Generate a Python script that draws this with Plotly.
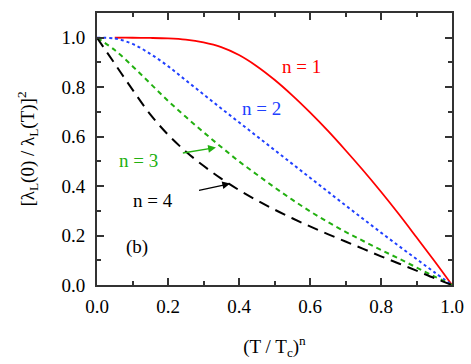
import plotly.graph_objects as go

# values
x_n1 = [0.05, 0.1, 0.15, 0.2, 0.25, 0.3, 0.35, 0.4, 0.45, 0.5, 0.55, 0.6, 0.65, 0.7, 0.75, 0.8, 0.85, 0.9, 0.95, 1.0]
y_n1 = [1.0, 1.0, 0.999, 0.997, 0.992, 0.981, 0.962, 0.93, 0.885, 0.83, 0.767, 0.698, 0.624, 0.545, 0.463, 0.377, 0.287, 0.193, 0.098, 0.0]

x_n2 = [0.0, 0.05, 0.1, 0.15, 0.2, 0.25, 0.3, 0.35, 0.4, 0.45, 0.5, 0.55, 0.6, 0.65, 0.7, 0.75, 0.8, 0.85, 0.9, 0.95, 1.0]
y_n2 = [1.0, 0.997, 0.975, 0.935, 0.885, 0.828, 0.771, 0.714, 0.658, 0.602, 0.546, 0.49, 0.434, 0.378, 0.322, 0.267, 0.212, 0.158, 0.105, 0.052, 0.0]

x_n3 = [0.0, 0.05, 0.1, 0.15, 0.2, 0.25, 0.3, 0.35, 0.4, 0.45, 0.5, 0.55, 0.6, 0.65, 0.7, 0.75, 0.8, 0.85, 0.9, 0.95, 1.0]
y_n3 = [1.0, 0.95, 0.885, 0.815, 0.745, 0.68, 0.618, 0.558, 0.5, 0.447, 0.395, 0.345, 0.298, 0.255, 0.215, 0.178, 0.142, 0.107, 0.071, 0.035, 0.0]

x_n4 = [0.0, 0.05, 0.1, 0.15, 0.2, 0.25, 0.3, 0.35, 0.4, 0.45, 0.5, 0.55, 0.6, 0.65, 0.7, 0.75, 0.8, 0.85, 0.9, 0.95, 1.0]
y_n4 = [1.0, 0.895, 0.79, 0.69, 0.608, 0.54, 0.482, 0.43, 0.384, 0.343, 0.305, 0.27, 0.237, 0.206, 0.176, 0.146, 0.116, 0.087, 0.058, 0.028, 0.0]

FONT = "Liberation Serif, DejaVu Serif, serif"

fig = go.Figure()
fig.add_trace(go.Scatter(x=x_n1, y=y_n1, mode="lines", line=dict(color="#ff0000", width=1.8, shape="spline")))
fig.add_trace(go.Scatter(x=x_n2, y=y_n2, mode="lines", line=dict(color="#2040ff", width=2, dash="dot", shape="spline")))
fig.add_trace(go.Scatter(x=x_n3, y=y_n3, mode="lines", line=dict(color="#22b010", width=2, dash="5px,4px", shape="spline")))
fig.add_trace(go.Scatter(x=x_n4, y=y_n4, mode="lines", line=dict(color="#000000", width=2, dash="11px,7px", shape="spline")))

fig.add_annotation(x=0.577, y=0.883, text="n = 1", showarrow=False, font=dict(color="#ff0000", size=19, family=FONT))
fig.add_annotation(x=0.464, y=0.714, text="n = 2", showarrow=False, font=dict(color="#2040ff", size=19, family=FONT))
fig.add_annotation(x=0.335, y=0.556, ax=0.116, ay=0.504, axref="x", ayref="y", text="n = 3", showarrow=True,
                   arrowhead=2, arrowsize=1.2, arrowwidth=1.3, arrowcolor="#22b010", standoff=0, startstandoff=24,
                   font=dict(color="#22b010", size=19, family=FONT))
fig.add_annotation(x=0.375, y=0.41, ax=0.158, ay=0.343, axref="x", ayref="y", text="n = 4", showarrow=True,
                   arrowhead=2, arrowsize=1.2, arrowwidth=1.3, arrowcolor="#000000", standoff=0, startstandoff=25,
                   font=dict(color="#000000", size=19, family=FONT))
fig.add_annotation(x=0.113, y=0.153, text="(b)", showarrow=False, font=dict(color="#000000", size=19, family=FONT))

axis_common = dict(
    showgrid=False, zeroline=False, showline=True, linecolor="#333333", linewidth=2,
    mirror="allticks", ticks="inside", ticklen=7, tickwidth=1.5, tickcolor="#333333",
    tickformat=".1f", dtick=0.2, tick0=0, automargin=False,
    minor=dict(ticks="inside", ticklen=4, tickwidth=1.5, tickcolor="#333333", dtick=0.1, showgrid=False),
    tickfont=dict(size=19, family=FONT, color="#000000"),
)

fig.update_xaxes(range=[0, 1.0],
                 title=dict(text="(T / T<sub>c</sub>)<sup>n</sup>", font=dict(size=19, family=FONT, color="#000000"), standoff=24),
                 ticklabelstandoff=3, **axis_common)
fig.update_yaxes(range=[0, 1.1],
                 title=dict(text="[λ<sub>L</sub>(0) / λ<sub>L</sub>(T)]<sup>2</sup>", font=dict(size=19, family=FONT, color="#000000"), standoff=22),
                 ticklabelstandoff=6, **axis_common)

fig.update_layout(
    width=471, height=364, showlegend=False,
    margin=dict(l=97, r=19, t=13, b=79),
    font=dict(family=FONT, color="#000000"),
    plot_bgcolor="white", paper_bgcolor="white",
)

# the page body has an 8px default margin; drop it so the chart sits at the window corner
fig.write_html("out.html", config={"displayModeBar": False},
               post_script="document.body.style.margin = '0';")
